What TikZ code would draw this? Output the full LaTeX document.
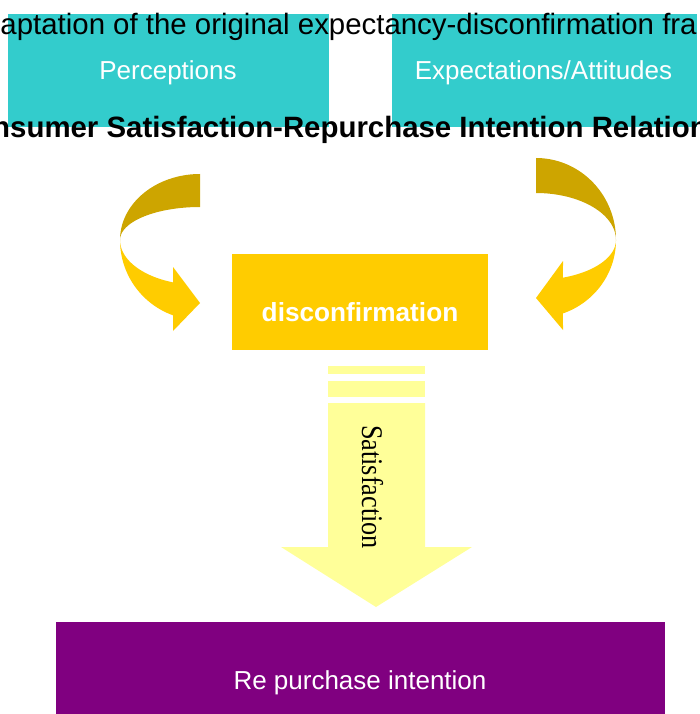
\documentclass[tikz,border=0pt]{standalone}
\usepackage{fontspec}
\setmainfont{Liberation Sans}
\newfontfamily\serifTNR{Liberation Serif}
\definecolor{tealbox}{HTML}{33CCCC}
\definecolor{goldbox}{HTML}{FFCC00}
\definecolor{darkgold}{RGB}{205,165,0}
\definecolor{paleyellow}{HTML}{FFFF99}
\definecolor{purplebox}{HTML}{800080}
\begin{document}
\begin{tikzpicture}[x=1pt,y=-1pt,inner sep=0pt,outer sep=0pt,
  lbl/.style={anchor=base,text=white,font=\fontsize{26}{30}\selectfont},
  bigtxt/.style={anchor=base,font=\fontsize{29.4}{35}\selectfont}]
\useasboundingbox (0,0) rectangle (700,714);
\clip (0,0) rectangle (700,714);
% teal boxes
\fill[tealbox] (8,14) rectangle (329,127);
\fill[tealbox] (392,14) rectangle (697,127);
\node[bigtxt,anchor=base west] (title) at (0.5,35) {aptation of the original expectancy-disconfirmation fra};
\node[lbl] (perc) at (168,80) {Perceptions};
\node[lbl] (expt) at (543.5,80) {Expectations/Attitudes};
\node[bigtxt,font=\bfseries\fontsize{29.4}{35}\selectfont] (subtitle) at (350,138) {nsumer Satisfaction-Repurchase Intention Relation};
% left curved arrow
\fill[goldbox] plot[domain=180:109.7,samples=40] ({200+80*cos(\x)},{240+80*sin(\x)})
  -- (173,331) -- (200,303) -- (173,267)
  -- plot[domain=109.7:180,samples=40] ({200+80*cos(\x)},{240+45*sin(\x)}) -- cycle;
\fill[darkgold] plot[domain=270:180,samples=40] ({200+80*cos(\x)},{240+66*sin(\x)})
  -- plot[domain=180:270,samples=40] ({200+80*cos(\x)},{240+33*sin(\x)}) -- cycle;
% right curved arrow
\fill[goldbox] plot[domain=180:109.7,samples=40] ({536-80*cos(\x)},{240+78*sin(\x)})
  -- (563,330) -- (536,298) -- (563,261)
  -- plot[domain=109.7:180,samples=40] ({536-80*cos(\x)},{240+40*sin(\x)}) -- cycle;
\fill[darkgold] plot[domain=270:180,samples=40] ({536-80*cos(\x)},{240+82*sin(\x)})
  -- plot[domain=180:270,samples=40] ({536-80*cos(\x)},{240+47*sin(\x)}) -- cycle;
% disconfirmation box
\fill[goldbox] (232,254) rectangle (488,350);
\node[lbl,font=\bfseries\fontsize{26.2}{30}\selectfont] (disc) at (360,321) {disconfirmation};
% satisfaction arrow
\fill[paleyellow] (328,366) rectangle (425,374);
\fill[paleyellow] (328,381) rectangle (425,397);
\fill[paleyellow] (328,403) -- (425,403) -- (425,547) -- (472,547) -- (376,607) -- (281,547) -- (328,547) -- cycle;
\node[anchor=base,rotate=-90,font=\serifTNR\fontsize{30}{34}\selectfont] (sat) at (362,487) {\scalebox{0.875}[1]{Satisfaction}};
% purple box
\fill[purplebox] (56,622) rectangle (665,714);
\node[lbl] (rep) at (360,689) {Re purchase intention};
\end{tikzpicture}
\end{document}
